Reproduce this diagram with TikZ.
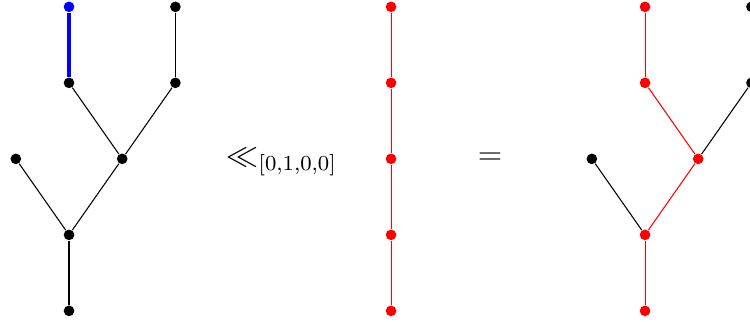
\documentclass[tikz,border=0pt]{standalone}
\usepackage{amssymb}
\usepackage{xcolor}
\definecolor{dotblack}{RGB}{0,0,0}
\definecolor{dotred}{RGB}{255,0,0}
\definecolor{dotblue}{RGB}{0,0,255}

\begin{document}
\begin{tikzpicture}[
  x=1cm, y=1cm,
  dot/.style={circle, fill=dotblack, inner sep=0pt, minimum size=1.4mm},
  rdot/.style={dot, fill=dotred},
  bdot/.style={dot, fill=dotblue},
  edge/.style={draw=dotblack, line width=0.4pt},
  redge/.style={draw=dotred, line width=0.4pt},
  bedge/.style={draw=dotblue, line width=1.4pt},
  op/.style={font=\large, inner sep=0pt}
]
\useasboundingbox (-0.908,-0.145) rectangle (8.96,4.09);

% left tree
\node[dot] (l0) at (0,0) {};
\node[dot] (l1) at (0,1) {};
\node[dot] (l2a) at (-0.7,2) {};
\node[dot] (l2b) at (0.7,2) {};
\node[dot] (l3a) at (0,3) {};
\node[bdot] (l4a) at (0,4) {};
\node[dot] (l3b) at (1.4,3) {};
\node[dot] (l4b) at (1.4,4) {};

\draw[edge] (l0) -- (l1);
\draw[edge] (l1) -- (l2a);
\draw[edge] (l1) -- (l2b);
\draw[edge] (l2b) -- (l3a);
\draw[edge] (l2b) -- (l3b);
\draw[edge] (l3b) -- (l4b);
\draw[bedge] (l3a) -- (l4a);

\node[op] (ll) at (2.80,1.96) {$\ll_{[0,1,0,0]}$};

% middle chain
\node[rdot] (m0) at (4.237,0) {};
\node[rdot] (m1) at (4.237,1) {};
\node[rdot] (m2) at (4.237,2) {};
\node[rdot] (m3) at (4.237,3) {};
\node[rdot] (m4) at (4.237,4) {};

\draw[redge] (m0) -- (m1);
\draw[redge] (m1) -- (m2);
\draw[redge] (m2) -- (m3);
\draw[redge] (m3) -- (m4);

\node[op] (eq) at (5.54,2.0) {$=$};

% right tree
\node[rdot] (r0) at (7.579,0) {};
\node[rdot] (r1) at (7.579,1) {};
\node[dot] (r2a) at (6.879,2) {};
\node[rdot] (r2b) at (8.279,2) {};
\node[rdot] (r3a) at (7.579,3) {};
\node[rdot] (r4a) at (7.579,4) {};
\node[dot] (r3b) at (8.979,3) {};
\node[dot] (r4b) at (8.979,4) {};

\draw[redge] (r0) -- (r1);
\draw[edge] (r1) -- (r2a);
\draw[redge] (r1) -- (r2b);
\draw[redge] (r2b) -- (r3a);
\draw[edge] (r2b) -- (r3b);
\draw[edge] (r3b) -- (r4b);
\draw[redge] (r3a) -- (r4a);
\end{tikzpicture}
\end{document}
